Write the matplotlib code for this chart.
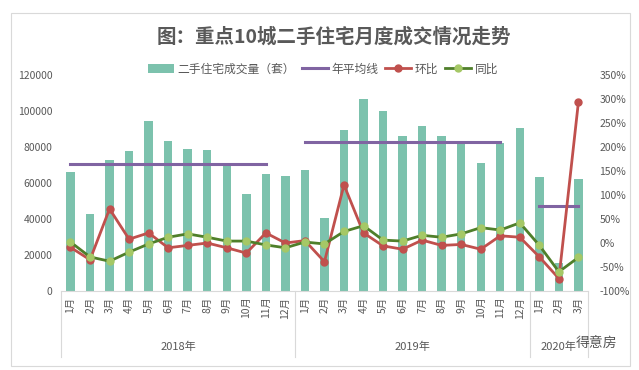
import numpy as np
import matplotlib.pyplot as plt
import matplotlib.patches as patches
import matplotlib.transforms as transforms

plt.rcParams['font.family'] = ['Noto Sans CJK SC', 'DejaVu Sans']

# dados
meses = ['1月', '2月', '3月', '4月', '5月', '6月', '7月', '8月', '9月', '10月', '11月', '12月',
         '1月', '2月', '3月', '4月', '5月', '6月', '7月', '8月', '9月', '10月', '11月', '12月',
         '1月', '2月', '3月']
anos = ['2018年', '2019年', '2020年']

volume = [66000, 42600, 72600, 77600, 94300, 83200, 78700, 78200, 70400, 53700, 64800, 63700,
          67000, 40600, 89300, 106500, 99800, 85900, 91500, 85900, 82500, 71000, 82200, 90400,
          63200, 15500, 62000]

media_anual = [70800] * 11 + [np.nan] + [83000] * 11 + [np.nan] + [47000] * 3

huanbi = [-9, -35, 71, 8, 21, -10, -5, 0, -10, -21, 21, 0,
          5, -39, 121, 21, -6, -13, 6, -5, -3, -13, 15, 12,
          -29, -74, 294]

tongbi = [2, -29, -38, -19, -2, 12, 19, 12, 4, 4, -4, -10,
          2, -2, 24, 36, 6, 4, 16, 12, 19, 32, 27, 42,
          -5, -60, -30]

cinza = '#595959'
x = np.arange(len(meses))

fig = plt.figure(figsize=(6.39, 3.70), dpi=100)
ax = fig.add_axes([60.7 / 639, 79 / 370, 527.5 / 639, 216 / 370])

# barras
barras = ax.bar(x, volume, width=0.43, color='#7CC2AD', label='二手住宅成交量（套）', zorder=1)
media, = ax.plot(x, media_anual, color='#8064A2', lw=2.2, label='年平均线', zorder=2)
ax.set_ylim(0, 120000)
ax.set_yticks(np.arange(0, 120001, 20000))
ax.set_xlim(-0.5, len(meses) - 0.5)
ax.set_xticks(x)
ax.set_xticklabels(meses, rotation=90, fontsize=7.5, color=cinza)
ax.tick_params(axis='x', length=0, pad=4)
ax.tick_params(axis='y', length=0, labelsize=7.5, labelcolor=cinza, pad=6)
for s in ['top', 'right', 'left']:
    ax.spines[s].set_visible(False)
ax.spines['bottom'].set_color('#D9D9D9')

# eixo da direita
ax2 = ax.twinx()
l_hb, = ax2.plot(x, np.array(huanbi) / 100, color='#C0504D', lw=2, marker='o', ms=5,
                 mfc='#C0504D', mec='#C0504D', label='环比', zorder=3)
l_tb, = ax2.plot(x, np.array(tongbi) / 100, color='#4F7F2A', lw=2, marker='o', ms=5,
                 mfc='#A5C866', mec='#A5C866', label='同比', zorder=3)
ax2.set_ylim(-1.0, 3.5)
ax2.set_yticks(np.arange(-1.0, 3.51, 0.5))
ax2.set_yticklabels([f'{int(round(v * 100))}%' for v in np.arange(-1.0, 3.51, 0.5)])
ax2.tick_params(axis='y', length=0, labelsize=7.5, labelcolor=cinza, pad=8)
for s in ['top', 'right', 'left', 'bottom']:
    ax2.spines[s].set_visible(False)

# separadores dos anos
trans = transforms.blended_transform_factory(ax.transData, ax.transAxes)
for sep in [-0.5, 11.5, 23.5, 26.5]:
    ax.plot([sep, sep], [0, -0.305], color='#D9D9D9', lw=0.8, transform=trans, clip_on=False)
for pos, ano in zip([5.5, 17.5, 25], anos):
    ax.text(pos, -0.26, ano, transform=trans, ha='center', va='center', fontsize=8, color=cinza)

# titulo e legenda
fig.text(334 / 639, 1 - 37 / 370, '图：重点10城二手住宅月度成交情况走势', ha='center', va='center',
         fontsize=14, fontweight='bold', color=cinza)
leg = fig.legend([barras, media, l_hb, l_tb], ['二手住宅成交量（套）', '年平均线', '环比', '同比'],
                 loc='center', bbox_to_anchor=(323 / 639, 1 - 69 / 370),
                 ncol=4, frameon=False, fontsize=8.5, handlelength=2.2, columnspacing=0.6,
                 handletextpad=0.3, borderaxespad=0)
for t in leg.get_texts():
    t.set_color(cinza)

# marca d'agua
fig.text(597 / 639, 1 - 343 / 370, '得意房', ha='center', va='center', fontsize=10, color='#555555')

# moldura
fig.patches.append(patches.Rectangle((10.5 / 639, 1 - 366 / 370), 619.5 / 639, 353 / 370,
                                     transform=fig.transFigure, fill=False,
                                     edgecolor='#D9D9D9', lw=0.8))

plt.savefig('out.png', dpi=100)
